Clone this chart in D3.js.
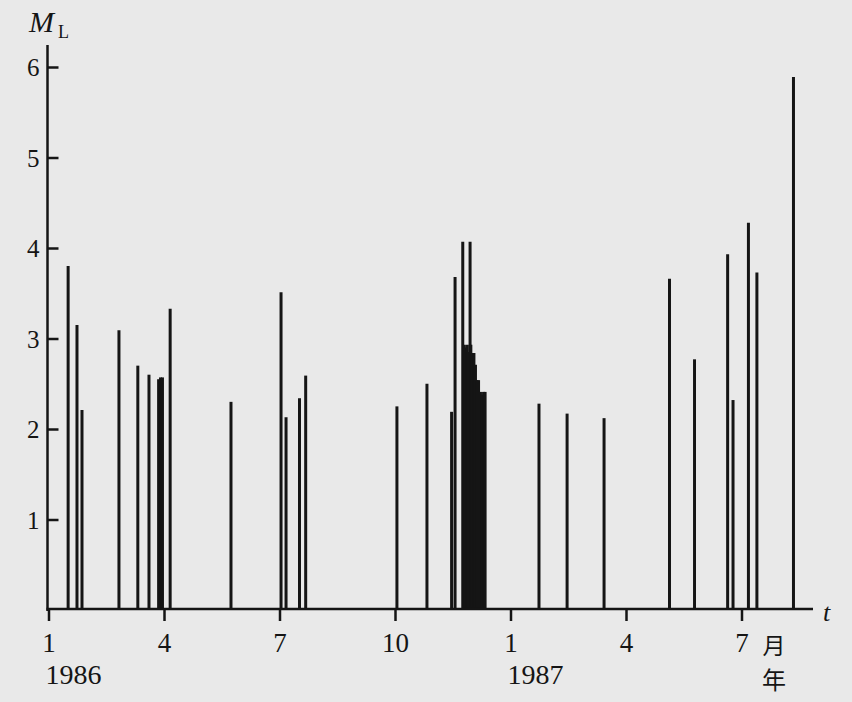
<!DOCTYPE html>
<html>
<head>
<meta charset="utf-8">
<script src="https://cdn.jsdelivr.net/npm/d3@7"></script>
<style>
  html, body { margin: 0; padding: 0; background: #e9e9e9; }
  svg { display: block; }
</style>
</head>
<body>
<script>
// ---- DATA ----
// event times as months after 1 Jan 1986 (decimal), local magnitude M_L
const eventMonths = [
  0.51, 0.74, 0.87, 1.83, 2.32, 2.61, 2.86, 2.91, 2.96, 3.16,
  4.74, 6.04, 6.17, 6.52, 6.68, 9.05, 9.83, 10.47, 10.56, 10.76, 10.95,
  10.78, 10.82, 10.86, 10.90, 10.94, 10.97, 11.01, 11.05, 11.09, 11.13, 11.17,
  11.22, 11.26, 11.30, 11.34,
  12.74, 13.47, 14.43, 16.13, 16.78, 17.64, 17.78, 18.18, 18.40, 19.35
];
const magnitudes = [
  3.80, 3.15, 2.21, 3.09, 2.70, 2.60, 2.55, 2.57, 2.57, 3.33,
  2.30, 3.51, 2.13, 2.34, 2.59, 2.25, 2.50, 2.19, 3.68, 4.07, 4.07,
  2.93, 2.90, 2.93, 2.85, 2.93, 2.93, 2.84, 2.84, 2.71, 2.54, 2.54,
  2.41, 2.38, 2.41, 2.41,
  2.28, 2.17, 2.12, 3.66, 2.77, 3.93, 2.32, 4.28, 3.73, 5.89
];
const xTickMonths = [0, 3, 6, 9, 12, 15, 18];
const xTickLabels = ["1", "4", "7", "10", "1", "4", "7"];
const yTicks = [1, 2, 3, 4, 5, 6];
const yearLabels = [{ m: 0, text: "1986" }, { m: 12, text: "1987" }];

// ---- CHART ----
const W = 852, H = 702;
const serif = '"Liberation Serif", "Times New Roman", serif';
const ink = "#151515";

const svg = d3.select("body").append("svg").attr("width", W).attr("height", H)
  .style("background", "#e9e9e9");

const x = d3.scaleLinear().domain([0, 18]).range([48.5, 741.5]);
const y = d3.scaleLinear().domain([0, 6]).range([610, 67]);

const events = eventMonths.map((m, i) => ({ m, v: magnitudes[i] }));

// bars (spikes)
svg.append("g").selectAll("line").data(events).join("line")
  .attr("x1", d => x(d.m)).attr("x2", d => x(d.m))
  .attr("y1", y(0)).attr("y2", d => y(d.v))
  .attr("stroke", ink).attr("stroke-width", 3);

// y axis
const yAxis = d3.axisLeft(y).tickValues(yTicks).tickFormat(d3.format("d"))
  .tickSizeInner(-11).tickSizeOuter(0).tickPadding(8);
const gy = svg.append("g").attr("transform", `translate(${x(0) - 1},0)`).call(yAxis);
gy.attr("font-family", serif);
gy.select(".domain").remove();
gy.selectAll(".tick line").attr("stroke", ink).attr("stroke-width", 2.5);
gy.selectAll(".tick text").attr("font-family", serif).attr("font-size", 25)
  .attr("fill", ink).attr("dy", "0.34em");

// y axis line
svg.append("line").attr("x1", x(0) - 1).attr("x2", x(0) - 1)
  .attr("y1", 45).attr("y2", y(0) + 1)
  .attr("stroke", ink).attr("stroke-width", 2.5);

// x axis
const xAxis = d3.axisBottom(x).tickValues(xTickMonths)
  .tickFormat((d, i) => xTickLabels[i])
  .tickSizeInner(12).tickSizeOuter(0).tickPadding(12);
const gx = svg.append("g").attr("transform", `translate(0,${y(0) - 1})`).call(xAxis);
gx.attr("font-family", serif);
gx.select(".domain").remove();
gx.selectAll(".tick line").attr("stroke", ink).attr("stroke-width", 2.5);
gx.selectAll(".tick text").attr("font-family", serif).attr("font-size", 27).attr("fill", ink);

// x axis line
svg.append("line").attr("x1", x(0) - 2).attr("x2", 813)
  .attr("y1", y(0) - 1).attr("y2", y(0) - 1)
  .attr("stroke", ink).attr("stroke-width", 2.5);

// year labels
svg.append("g").selectAll("text").data(yearLabels).join("text")
  .attr("x", d => x(d.m) - 3).attr("y", 684)
  .attr("font-family", serif).attr("font-size", 28).attr("fill", ink)
  .text(d => d.text);

// axis titles
const ml = svg.append("text").attr("x", 29).attr("y", 32)
  .attr("font-family", serif).attr("fill", ink);
ml.append("tspan").attr("font-style", "italic").attr("font-size", 30).text("M");
ml.append("tspan").attr("font-size", 18).attr("dx", 4).attr("dy", 6).text("L");

svg.append("text").attr("x", 823).attr("y", 621)
  .attr("font-family", serif).attr("font-style", "italic").attr("font-size", 26)
  .attr("fill", ink).text("t");

const cjk = '"Noto Sans CJK SC", "Noto Sans CJK JP", sans-serif';
svg.append("text").attr("x", 774).attr("y", 654).attr("text-anchor", "middle")
  .attr("font-family", cjk).attr("font-size", 23).attr("fill", ink).text("月");
svg.append("text").attr("x", 774).attr("y", 689).attr("text-anchor", "middle")
  .attr("font-family", cjk).attr("font-size", 24).attr("fill", ink).text("年");
</script>
</body>
</html>
